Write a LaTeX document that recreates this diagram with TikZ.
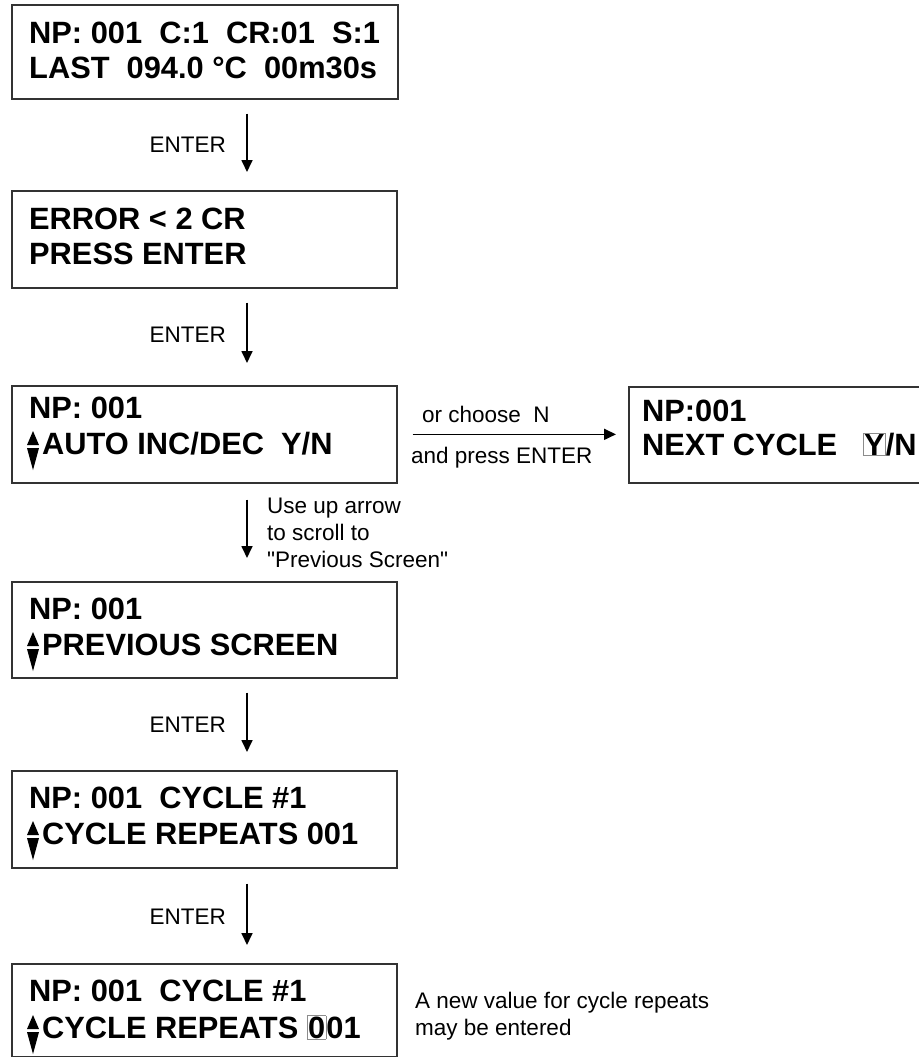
\documentclass[tikz,border=0pt]{standalone}
\usepackage{fontspec}
\setmainfont{Liberation Sans}
% plain family: keeps the straight double quote as typed
\newfontfamily\notefont{Liberation Sans}
\usetikzlibrary{arrows.meta}

% cursor block drawn round the character being edited
\newcommand\cursorchar[1]{{\setlength\fboxsep{0.4bp}\setlength\fboxrule{0.8bp}\fcolorbox{black!45}{white}{#1}}}

\tikzset{
  screen/.style={draw=black!80, line width=1.7bp, rectangle, inner sep=0pt, anchor=north west},
  lcd/.style={font=\fontsize{30.8bp}{36bp}\selectfont\bfseries, anchor=base west, inner sep=0pt},
  note/.style={font=\notefont\fontsize{22.5bp}{27bp}\selectfont, inner sep=0pt},
  flow/.style={line width=1.7bp, -{Triangle[length=12bp,width=11bp]}},
  updown/.pic={
    \fill[black] (0,-9) -- (12,-9) -- (6,-23) -- cycle;
    \fill[black] (0,-6) -- (12,-6) -- (6,16) -- cycle;
  }
}

\begin{document}
\begin{tikzpicture}[x=1bp, y=-1bp]
\useasboundingbox (0,0) rectangle (919,1057);

% screens
\node[screen, minimum width=386bp, minimum height=94bp] (s1) at (11,4) {};
\node[screen, minimum width=385bp, minimum height=97bp] (s2) at (11,190) {};
\node[screen, minimum width=385bp, minimum height=97bp] (s3) at (11,385) {};
\node[screen, minimum width=300bp, minimum height=96bp] (nx) at (628,386) {};
\node[screen, minimum width=385bp, minimum height=96bp] (s4) at (11,581) {};
\node[screen, minimum width=385bp, minimum height=97bp] (s5) at (11,770) {};
\node[screen, minimum width=385bp, minimum height=93bp] (s6) at (11,963) {};

% screen contents
\node[lcd] (s1a) at (29,43) {NP: 001\ \ C:1\ \ CR:01\ \ S:1};
\node[lcd] (s1b) at (29,78) {LAST\ \ 094.0 °C\ \ 00m30s};

\node[lcd] (s2a) at (29,229) {ERROR < 2 CR};
\node[lcd] (s2b) at (29,264) {PRESS ENTER};

\node[lcd] (s3a) at (29,418) {NP: 001};
\pic at (27,454) {updown};
\node[lcd] (s3b) at (42,454) {AUTO INC/DEC\ \ Y/N};

\node[lcd] (nxa) at (642,421) {NP:001};
\node[lcd] (nxb) at (642,455) {NEXT CYCLE\ \ \ \cursorchar{Y}/N};

\node[lcd] (s4a) at (29,619) {NP: 001};
\pic at (27,655) {updown};
\node[lcd] (s4b) at (42,655) {PREVIOUS SCREEN};

\node[lcd] (s5a) at (29,808) {NP: 001\ \ CYCLE \#1};
\pic at (27,844) {updown};
\node[lcd] (s5b) at (42,844) {CYCLE REPEATS 001};

\node[lcd] (s6a) at (29,1001) {NP: 001\ \ CYCLE \#1};
\pic at (27,1038) {updown};
\node[lcd] (s6b) at (42,1038) {CYCLE REPEATS \cursorchar{0}01};

% vertical flow
\coordinate (ax) at (247,0);
\draw[flow, shorten <=14bp, shorten >=18bp] (s1.south -| ax) -- (s2.north -| ax);
\draw[flow, shorten <=14bp, shorten >=22bp] (s2.south -| ax) -- (s3.north -| ax);
\draw[flow, shorten <=16bp, shorten >=23bp] (s3.south -| ax) -- (s4.north -| ax);
\draw[flow, shorten <=14bp, shorten >=18bp] (s4.south -| ax) -- (s5.north -| ax);
\draw[flow, shorten <=15bp, shorten >=18bp] (s5.south -| ax) -- (s6.north -| ax);

\node[note, anchor=east] (e1) at (226,145) {ENTER};
\node[note, anchor=east] (e2) at (226,335) {ENTER};
\node[note, anchor=east] (e3) at (226,725) {ENTER};
\node[note, anchor=east] (e4) at (226,917) {ENTER};

\node[note, anchor=base west] (u1) at (267,513) {Use up arrow};
\node[note, anchor=base west] (u2) at (267,540) {to scroll to};
\node[note, anchor=base west] (u3) at (267,567) {"Previous Screen"};

% side branch
\draw[flow, shorten <=15bp, shorten >=12bp] (s3.east) -- (s3.east -| nx.west);
\node[note, anchor=base west] (o1) at (422,422) {or choose\ \ N};
\node[note, anchor=base west] (o2) at (411,463) {and press ENTER};

% remark beside the last screen
\node[note, anchor=base west] (r1) at (415,1008) {A new value for cycle repeats};
\node[note, anchor=base west] (r2) at (415,1035) {may be entered};
\end{tikzpicture}
\end{document}
